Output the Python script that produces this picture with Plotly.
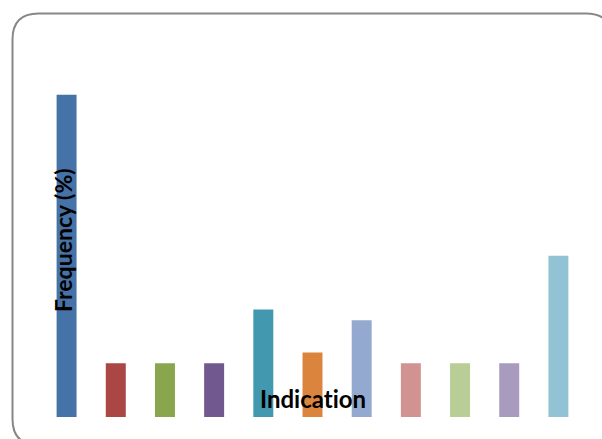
import plotly.graph_objects as go

categories = ["Ind. 1", "Ind. 2", "Ind. 3", "Ind. 4", "Ind. 5", "Ind. 6",
              "Ind. 7", "Ind. 8", "Ind. 9", "Ind. 10", "Ind. 11"]
frequency = [30, 5, 5, 5, 10, 6, 9, 5, 5, 5, 15]
colors = ["#4572A7", "#AA4643", "#89A54E", "#71588F", "#4198AF", "#DB843D",
          "#93A9CF", "#D19392", "#B9CD96", "#A99BBD", "#92C3D4"]

W, H = 602, 439
L, R, T, B = 42, 19, 41, 22
PW, PH = W - L - R, H - T - B


def px(x):
    return (x - L) / PW


def py(y):
    return (H - B - y) / PH


fig = go.Figure(go.Bar(x=categories, y=frequency, marker_color=colors,
                       marker_line_width=0))

# rounded frame
x0, x1, y0, y1, r = 12.5, 612, 13.5, 445, 26
path = (f"M {px(x0)},{py(y0 + r)} "
        f"Q {px(x0)},{py(y0)} {px(x0 + r)},{py(y0)} "
        f"L {px(x1 - r)},{py(y0)} "
        f"Q {px(x1)},{py(y0)} {px(x1)},{py(y0 + r)} "
        f"L {px(x1)},{py(y1 - r)} "
        f"Q {px(x1)},{py(y1)} {px(x1 - r)},{py(y1)} "
        f"L {px(x0 + r)},{py(y1)} "
        f"Q {px(x0)},{py(y1)} {px(x0)},{py(y1 - r)} Z")
fig.add_shape(type="path", path=path, xref="paper", yref="paper",
              line=dict(color="#878787", width=2), layer="below")

fig.add_annotation(text="<b>Frequency (%)</b>", textangle=-90,
                   x=px(63), y=py(240), xref="paper", yref="paper",
                   xanchor="center", yanchor="middle", showarrow=False,
                   font=dict(family="Lato", size=23, color="#000000"))
fig.add_annotation(text="<b>Indicat\u200cion</b>",
                   x=px(313), y=py(398), xref="paper", yref="paper",
                   xanchor="center", yanchor="middle", showarrow=False,
                   font=dict(family="Lato", size=24, color="#000000"))

fig.update_layout(
    width=W, height=H,
    margin=dict(l=L, r=R, t=T, b=B, pad=0),
    paper_bgcolor="white", plot_bgcolor="white",
    bargap=0.594, showlegend=False,
    xaxis=dict(visible=False, range=[-0.5, 10.5]),
    yaxis=dict(visible=False, range=[0, 35]),
)

fig.write_html("out.html")
